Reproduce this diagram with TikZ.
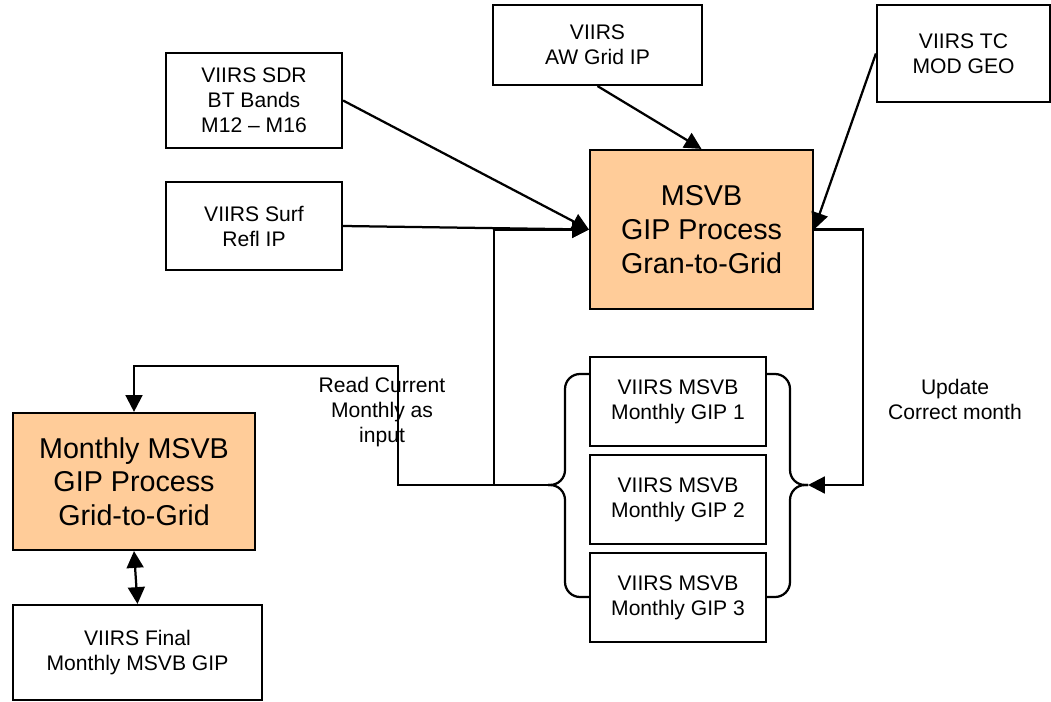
\documentclass[tikz,border=0pt]{standalone}
\usepackage{fontspec}
\setmainfont{Liberation Sans}
\usetikzlibrary{arrows.meta, positioning}
\definecolor{procfill}{RGB}{255,204,153}

\begin{document}
\begin{tikzpicture}[
            x = 0.025cm, y = -0.025cm, % one unit is one pixel of the sketch
            > = {Triangle[length=0.42cm, width=0.42cm]}, % arrow head style
            line width = 1.6pt, % line style
            node distance = 0.175cm, % gap between the monthly boxes
        ]
\tikzstyle{inbox}=[
            shape = rectangle,
            draw = black,
            line width = 1.5pt,
            align = center,
            inner sep = 0pt,
            font = \fontsize{15}{17.8}\selectfont
        ]
\tikzstyle{procbox}=[
            inbox,
            fill = procfill,
            font = \fontsize{20.4}{24}\selectfont
        ]
\tikzstyle{gipbox}=[
            inbox,
            minimum width = 4.4cm,
            minimum height = 2.225cm
        ]
\tikzstyle{note}=[
            align = center,
            font = \fontsize{15}{17.8}\selectfont
        ]
\tikzstyle{brace}=[rounded corners = 0.375cm]
\useasboundingbox (0,0) rectangle (1051,702);
% inputs
\node[inbox, minimum width=4.4cm, minimum height=2.375cm](sdr) at (254,100.5) {VIIRS SDR\\BT Bands\\M12 – M16};
\node[inbox, minimum width=4.4cm, minimum height=2.2cm](surf) at (254,226) {VIIRS Surf\\Refl IP};
\node[inbox, minimum width=5.225cm, minimum height=2cm](aw) at (597.5,45) {VIIRS\\AW Grid IP};
\node[inbox, minimum width=4.325cm, minimum height=2.425cm](tc) at (963.5,53.5) {VIIRS TC\\MOD GEO};
% processes
\node[procbox, minimum width=5.575cm, minimum height=3.975cm](gran) at (701.5,229.5) {MSVB\\GIP Process\\Gran-to-Grid};
\node[procbox, minimum width=6.05cm, minimum height=3.425cm](monthly) at (134,481.5) {Monthly MSVB\\GIP Process\\Grid-to-Grid};
\node[inbox, minimum width=6.225cm, minimum height=2.375cm](final) at (137.5,652.5) {VIIRS Final\\Monthly MSVB GIP};
% monthly products
\node[gipbox](gip1) at (678,401.5) {VIIRS MSVB\\Monthly GIP 1};
\node[gipbox, below=of gip1](gip2) {VIIRS MSVB\\Monthly GIP 2};
\node[gipbox, below=of gip2](gip3) {VIIRS MSVB\\Monthly GIP 3};
\node[note](readlbl) at (382,412) {Read Current\\Monthly as\\input};
\node[note](updlbl) at (955,399) {Update\\Correct month};
\coordinate (lbrace) at (548,485);
\coordinate (rbrace) at (808,485);
\coordinate (split) at (494,485);
% braces round the monthly products
\draw[brace] (590,374) -- (565,374) -- (565,485) -- (lbrace);
\draw[brace] (590,597) -- (565,597) -- (565,485) -- (lbrace);
\draw[brace] (766,374) -- (790,374) -- (790,485) -- (rbrace);
\draw[brace] (766,597) -- (790,597) -- (790,485) -- (rbrace);
% connectors
\draw[->] (sdr.east) -- (gran.west);
\draw[->] (surf.east) -- (gran.west);
\draw[->] (aw.south) -- (gran.north);
\draw[->] (tc.west) -- (gran.east);
\draw[->] (gran.east) -- ++(49,0) |- (rbrace);
\draw[->] (lbrace) -| (398,366) -| (monthly.north);
\draw[->] (split) |- (gran.west);
\draw[<->] (monthly.south) -- (final.north);
\end{tikzpicture}
\end{document}
